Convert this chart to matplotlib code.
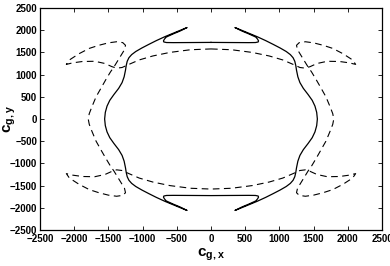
import matplotlib
matplotlib.use("Agg")
import matplotlib.pyplot as plt

# ---- data ----
solid_x = [0, 300, 550, 650, 690, 695, 680, 655, 560, 450, 350, 450, 560, 670, 800, 910, 1010, 1100, 1160, 1200,
           1225, 1240, 1250, 1270, 1300, 1350, 1420, 1480, 1520, 1545, 1555,
           1545, 1520, 1480, 1420, 1350, 1300, 1270, 1250, 1240, 1225, 1200, 1160, 1100, 1010, 910, 800, 670, 560,
           450, 350, 450, 560, 655, 680, 695, 690, 650, 550, 300, 0,
           -300, -550, -650, -690, -695, -680, -655, -560, -450, -350, -450, -560, -670, -800, -910, -1010, -1100,
           -1160, -1200, -1225, -1240, -1250, -1270, -1300, -1350, -1420, -1480, -1520, -1545, -1555,
           -1545, -1520, -1480, -1420, -1350, -1300, -1270, -1250, -1240, -1225, -1200, -1160, -1100, -1010, -910,
           -800, -670, -560, -450, -350, -450, -560, -655, -680, -695, -690, -650, -550, -300, 0]
solid_y = [1725, 1722, 1720, 1722, 1735, 1760, 1800, 1845, 1912, 1983, 2060, 1997, 1927, 1857, 1765, 1680, 1600,
           1520, 1450, 1380, 1300, 1200, 1100, 950, 820, 690, 550, 420, 290, 150, 0,
           -150, -290, -420, -550, -690, -820, -950, -1100, -1200, -1300, -1380, -1450, -1520, -1600, -1680, -1765,
           -1857, -1927, -1997, -2060, -1983, -1912, -1845, -1800, -1760, -1735, -1722, -1720, -1722, -1725,
           -1722, -1720, -1722, -1735, -1760, -1800, -1845, -1912, -1983, -2060, -1997, -1927, -1857, -1765, -1680,
           -1600, -1520, -1450, -1380, -1300, -1200, -1100, -950, -820, -690, -550, -420, -290, -150, 0,
           150, 290, 420, 550, 690, 820, 950, 1100, 1200, 1300, 1380, 1450, 1520, 1600, 1680, 1765, 1857, 1927,
           1997, 2060, 1983, 1912, 1845, 1800, 1760, 1735, 1722, 1720, 1722, 1725]

dashed_x = [0, 300, 600, 850, 1050, 1200, 1300, 1380, 1450, 1550, 1700, 1880, 2020, 2115, 2070, 1930, 1780, 1640,
            1500, 1380, 1290, 1250, 1265, 1300, 1360, 1420, 1470, 1540, 1600, 1680, 1740, 1780, 1795,
            1780, 1740, 1680, 1600, 1540, 1470, 1420, 1360, 1300, 1265, 1250, 1290, 1380, 1500, 1640, 1780, 1930,
            2070, 2115, 2020, 1880, 1700, 1550, 1450, 1380, 1300, 1200, 1050, 850, 600, 300, 0,
            -300, -600, -850, -1050, -1200, -1300, -1380, -1450, -1550, -1700, -1880, -2020, -2115, -2070, -1930,
            -1780, -1640, -1500, -1380, -1290, -1250, -1265, -1300, -1360, -1420, -1470, -1540, -1600, -1680,
            -1740, -1780, -1795,
            -1780, -1740, -1680, -1600, -1540, -1470, -1420, -1360, -1300, -1265, -1250, -1290, -1380, -1500,
            -1640, -1780, -1930, -2070, -2115, -2020, -1880, -1700, -1550, -1450, -1380, -1300, -1200, -1050,
            -850, -600, -300, 0]
dashed_y = [1578, 1560, 1500, 1420, 1330, 1230, 1160, 1145, 1180, 1250, 1300, 1295, 1265, 1230, 1330, 1470, 1590,
            1660, 1715, 1740, 1720, 1660, 1560, 1470, 1320, 1170, 1060, 880, 720, 500, 280, 120, 0,
            -120, -280, -500, -720, -880, -1060, -1170, -1320, -1470, -1560, -1660, -1720, -1740, -1715, -1660,
            -1590, -1470, -1330, -1230, -1265, -1295, -1300, -1250, -1180, -1145, -1160, -1230, -1330, -1420,
            -1500, -1560, -1578,
            -1560, -1500, -1420, -1330, -1230, -1160, -1145, -1180, -1250, -1300, -1295, -1265, -1230, -1330,
            -1470, -1590, -1660, -1715, -1740, -1720, -1660, -1560, -1470, -1320, -1170, -1060, -880, -720, -500,
            -280, -120, 0,
            120, 280, 500, 720, 880, 1060, 1170, 1320, 1470, 1560, 1660, 1720, 1740, 1715, 1660, 1590, 1470, 1330,
            1230, 1265, 1295, 1300, 1250, 1180, 1145, 1160, 1230, 1330, 1420, 1500, 1560, 1578]

x_ticks = [-2500, -2000, -1500, -1000, -500, 0, 500, 1000, 1500, 2000, 2500]
y_ticks = [-2500, -2000, -1500, -1000, -500, 0, 500, 1000, 1500, 2000, 2500]

plt.rcParams['font.family'] = ['Liberation Sans', 'DejaVu Sans']
plt.rcParams['mathtext.fontset'] = 'custom'
plt.rcParams['mathtext.bf'] = 'Liberation Sans:bold'
plt.rcParams['mathtext.rm'] = 'Liberation Sans:bold'
plt.rcParams['mathtext.it'] = 'Liberation Sans:bold'

fig = plt.figure(figsize=(3.9, 2.66), dpi=100)
ax = fig.add_axes([40/390, 1-230/266, 342/390, 222/266])

ax.plot(solid_x, solid_y, color='black', lw=0.9, solid_joinstyle='round')
ax.plot(dashed_x, dashed_y, color='black', lw=0.8, linestyle=(0, (6, 4)))

ax.set_xlim(-2500, 2500)
ax.set_ylim(-2500, 2500)
ax.set_xticks(x_ticks)
ax.set_yticks(y_ticks)
ax.set_xticklabels([str(v).replace('-', '\u2212') for v in x_ticks], fontsize=7, fontweight='bold')
ax.set_yticklabels([str(v).replace('-', '\u2212') for v in y_ticks], fontsize=7, fontweight='bold')
ax.tick_params(direction='in', length=3, width=0.6, top=True, right=True)
ax.tick_params(axis='x', pad=3)
ax.tick_params(axis='y', pad=2)
for s in ax.spines.values():
    s.set_linewidth(0.9)

ax.set_xlabel(r'$\mathbf{c_{g,x}}$', fontsize=11)
ax.set_ylabel(r'$\mathbf{c_{g,y}}$', fontsize=11)
ax.xaxis.set_label_coords(0.5, -0.075)
ax.yaxis.set_label_coords(-0.063, 0.5)

fig.savefig('out.png', dpi=100)
